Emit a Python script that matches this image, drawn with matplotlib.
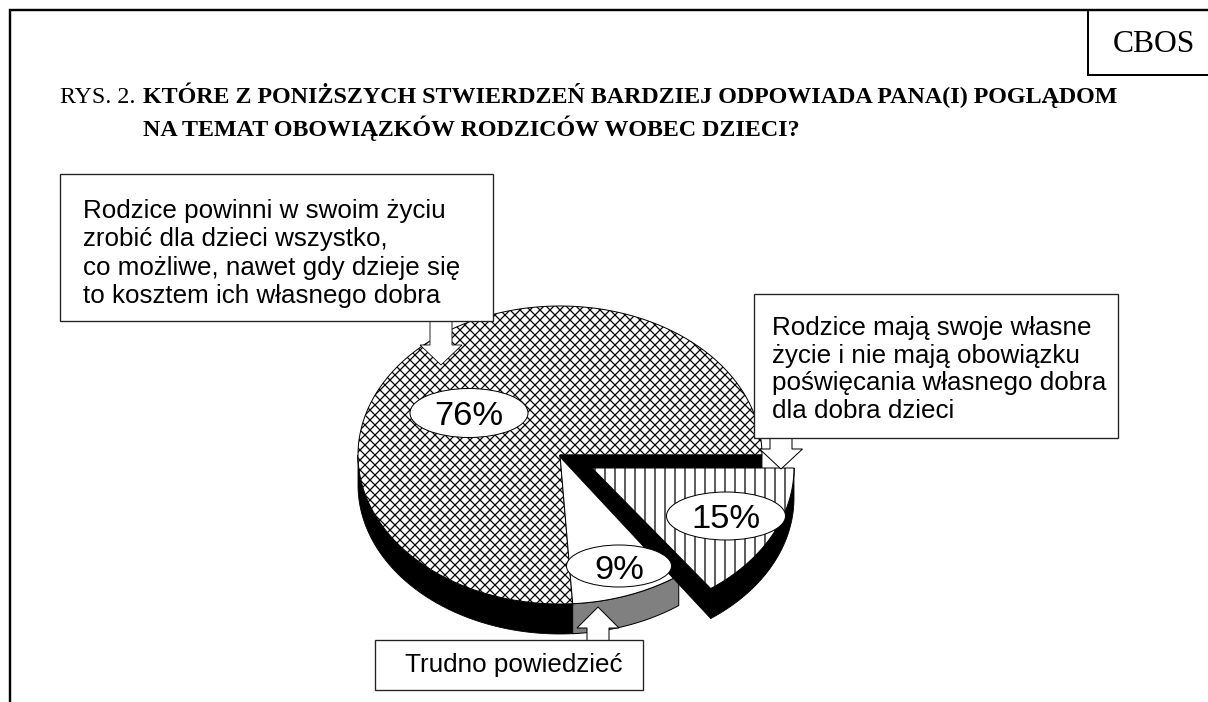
import numpy as np
import matplotlib
matplotlib.use("Agg")
import matplotlib.pyplot as plt
from matplotlib.patches import Polygon, Ellipse, Rectangle

# ---- data ----
categories = ["Rodzice powinni", "Trudno powiedzieć", "Rodzice mają swoje"]
shares = [76, 9, 15]
share_labels = ["76%", "9%", "15%"]
title_prefix = "RYS. 2. "
title_line1 = "KTÓRE Z PONIŻSZYCH STWIERDZEŃ BARDZIEJ ODPOWIADA PANA(I) POGLĄDOM"
title_line2 = "NA TEMAT OBOWIĄZKÓW RODZICÓW WOBEC DZIECI?"
text_a = ["Rodzice powinni w swoim życiu", "zrobić dla dzieci wszystko,",
          "co możliwe, nawet gdy dzieje się", "to kosztem ich własnego dobra"]
text_b = ["Rodzice mają swoje własne", "życie i nie mają obowiązku",
          "poświęcania własnego dobra", "dla dobra dzieci"]
text_c = "Trudno powiedzieć"

DPI = 120
W, H = 1208, 702
PX = 72 / DPI
plt.rcParams["hatch.linewidth"] = 0.75
plt.rcParams["hatch.color"] = "black"
fig = plt.figure(figsize=(W / DPI, H / DPI), dpi=DPI, facecolor="white")
ax = fig.add_axes([0, 0, 1, 1])
ax.set_xlim(0, W)
ax.set_ylim(H, 0)
ax.axis("off")

SANS = "Liberation Sans"
SERIF = "Liberation Serif"
CX, CY, RX, RY, DEPTH = 560, 455, 202, 149, 30
OFFX, OFFY = 32, 13


def arc(a0, a1, dx=0.0, dy=0.0):
    t = np.radians(np.linspace(a0, a1, 200))
    return np.column_stack([CX + dx + RX * np.cos(t), CY + dy + RY * np.sin(t)])


# The y axis is inverted, so negative angles sweep counter-clockwise on screen.
total = sum(shares)
main_end = 0.0
main_start = main_end - 360 * shares[0] / total
dk_start = main_start - 360 * shares[1] / total
ex_start = dk_start - 360 * shares[2] / total

# --- rims ---
ax.add_patch(Polygon(np.vstack([arc(main_start, -180), arc(main_start, -180, dy=DEPTH)[::-1]]),
                     fc="black", ec="black", lw=0.5, zorder=2))
ax.add_patch(Polygon(np.vstack([arc(dk_start, main_start), arc(dk_start, main_start, dy=DEPTH)[::-1]]),
                     fc="#808080", ec="black", lw=0.6, zorder=2))

# --- big wedge ---
ax.add_patch(Polygon(np.vstack([[CX, CY], arc(main_start, main_end)]),
                     fc="white", ec="black", lw=0.6, hatch="xxxx", zorder=3))
# --- don't know wedge ---
ax.add_patch(Polygon(np.vstack([[CX, CY], arc(dk_start, main_start)]),
                     fc="white", ec="black", lw=0.6, zorder=3))

# --- exploded wedge: walls then top ---
tip = arc(dk_start, dk_start, OFFX, OFFY)[0]
rim0 = arc(0, 0)[0]
apex = (CX + OFFX, CY + OFFY)
ax.add_patch(Polygon([(CX, CY), rim0, (rim0[0], apex[1]), apex,
                      tip, (tip[0], tip[1] + DEPTH), (CX, CY + 2)],
                     fc="black", ec="black", lw=0.5, zorder=4))
ax.add_patch(Polygon(np.vstack([arc(ex_start, dk_start, OFFX, OFFY),
                                arc(ex_start, dk_start, OFFX, OFFY + DEPTH)[::-1]]),
                     fc="black", ec="black", lw=0.5, zorder=4))
ax.add_patch(Polygon(np.vstack([[apex], arc(ex_start, dk_start, OFFX, OFFY)]),
                     fc="white", ec="black", lw=0.6, hatch="||", zorder=5))

# --- value ellipses ---
label_geom = [(469, 413, 118, 49, 425), (619, 566, 105, 42, 579), (726, 516, 119, 48, 528)]
for (x, y, w, h, base), lab in zip(label_geom, share_labels):
    ax.add_patch(Ellipse((x, y), w, h, fc="white", ec="black", lw=0.6, zorder=6))
    ax.text(x, base, lab, family=SANS, fontsize=20.7, ha="center", va="baseline", zorder=7)


# --- block arrows ---
def block_arrow(x, y0, y_neck, y_tip, half_shaft, half_head, lw=0.6):
    pts = [(x - half_shaft, y0), (x - half_shaft, y_neck), (x - half_head, y_neck),
           (x, y_tip), (x + half_head, y_neck), (x + half_shaft, y_neck), (x + half_shaft, y0)]
    ax.add_patch(Polygon(pts, closed=False, fc="white", ec="black", lw=lw, zorder=8))


block_arrow(441, 321, 345, 365, 11, 21, lw=0.5)
block_arrow(781, 437, 449, 469, 11, 21.5)
block_arrow(598, 640, 628, 607, 11, 21)

# --- boxes ---
for x0, y0, x1, y1 in [(60, 174, 493, 321), (754, 294, 1118, 438), (375, 640, 643, 690)]:
    ax.add_patch(Rectangle((x0, y0), x1 - x0, y1 - y0, fc="white", ec="#222222", lw=0.8, zorder=9))

for i, line in enumerate(text_a):
    ax.text(83, 218 + 28.3 * i, line, family=SANS, fontsize=15.6, va="baseline", zorder=10)
for i, line in enumerate(text_b):
    ax.text(772, 335 + 27.6 * i, line, family=SANS, fontsize=15.6, va="baseline", zorder=10)
ax.text(405, 672, text_c, family=SANS, fontsize=15.6, va="baseline", zorder=10)

# --- frame ---
ax.plot([10, 10, W], [H, 10, 10], color="black", lw=2 * PX * 1.2, solid_joinstyle="miter", zorder=11)
ax.plot([1088, 1088, W], [10, 75, 75], color="black", lw=2 * PX, solid_joinstyle="miter", zorder=11)
ax.text(1154, 52, "CBOS", family=SERIF, fontsize=19, ha="center", va="baseline", zorder=11)

# --- title ---
ax.text(60, 103, title_prefix, family=SERIF, fontsize=14.4, va="baseline", zorder=11)
ax.text(143, 103, title_line1, family=SERIF, fontsize=14.4, weight="bold", va="baseline", zorder=11)
ax.text(143, 136, title_line2, family=SERIF, fontsize=14.4, weight="bold", va="baseline", zorder=11)

fig.savefig("out.png", dpi=DPI, facecolor="white")
